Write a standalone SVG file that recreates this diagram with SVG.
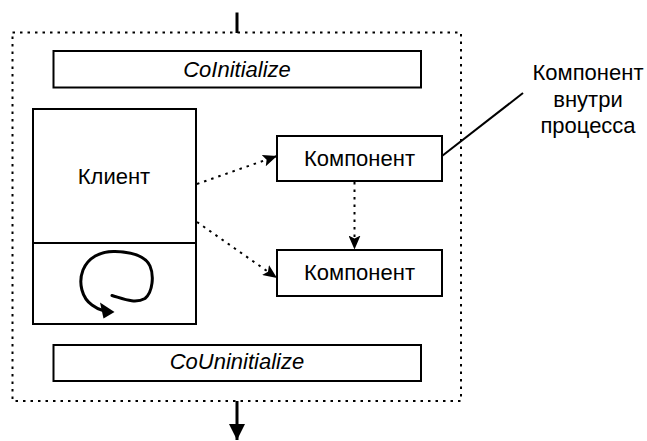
<svg xmlns="http://www.w3.org/2000/svg" width="647" height="441" viewBox="0 0 647 441">
<style>
.box{fill:#fff;stroke:#000;stroke-width:2}
.t{font-family:"Liberation Sans",Arial,sans-serif;font-size:22px;fill:#000;text-anchor:middle}
.i{font-style:italic}
.dot{fill:none;stroke:#000;stroke-width:2;stroke-dasharray:2.5 5}
.ln{fill:none;stroke:#000;stroke-width:2}
</style>
<defs>
<marker id="ah" viewBox="0 0 14 12" refX="14" refY="6" markerWidth="14" markerHeight="12" markerUnits="userSpaceOnUse" orient="auto">
<path d="M0,0 L14,6 L0,12 L3,6 Z" fill="#000"/>
</marker>
<marker id="ahb" viewBox="0 0 16 16" refX="16" refY="8" markerWidth="16" markerHeight="16" markerUnits="userSpaceOnUse" orient="auto">
<path d="M0,0 L16,8 L0,16 Z" fill="#000"/>
</marker>
</defs>
<rect x="0" y="0" width="647" height="441" fill="#fff"/>
<g id="process">
<rect x="12.5" y="32.5" width="448.5" height="368.5" class="dot"/>
</g>
<g id="coinitialize">
<rect x="53.5" y="51" width="367.5" height="36.5" class="box"/>
<text x="237" y="76.5" class="t i">CoInitialize</text>
</g>
<g id="client">
<rect x="33" y="109" width="163" height="215" class="box"/>
<line x1="33" y1="243" x2="196" y2="243" class="ln"/>
<text x="114" y="184" class="t">Клиент</text>
<path d="M112,295.5 C124,299 135,304 145,298.5 C153,292 154,275 150,266 C145,255 130,252 115,251.5 C100,251 88,258 83,270 C78,283 82,298 92,305 C96,308 99,309.5 103,310.5" fill="none" stroke="#000" stroke-width="3" stroke-linecap="round"/>
<path d="M114.5,312 L100,302.5 L103.5,318.5 Z" fill="#000"/>
</g>
<g id="component1">
<rect x="277" y="136" width="165" height="45" class="box"/>
<text x="359.5" y="165.5" class="t">Компонент</text>
</g>
<g id="component2">
<rect x="277" y="250" width="165" height="46" class="box"/>
<text x="359.5" y="280" class="t">Компонент</text>
</g>
<g id="couninitialize">
<rect x="53.5" y="345" width="367.5" height="36" class="box"/>
<text x="237" y="368.5" class="t i">CoUninitialize</text>
</g>
<g id="callout">
<text x="588" y="80" class="t">Компонент</text>
<text x="588" y="106.5" class="t">внутри</text>
<text x="588" y="133" class="t">процесса</text>
</g>
<g id="connectors">
<line x1="237" y1="12.5" x2="237" y2="33" stroke="#000" stroke-width="3"/>
<line x1="237" y1="401" x2="237" y2="440" stroke="#000" stroke-width="3" marker-end="url(#ahb)"/>
<line x1="197" y1="184" x2="277" y2="156" class="dot" marker-end="url(#ah)"/>
<line x1="197" y1="222" x2="277" y2="278" class="dot" marker-end="url(#ah)"/>
<line x1="354.5" y1="182" x2="354.5" y2="249.5" class="dot" marker-end="url(#ah)"/>
<line x1="442" y1="156" x2="523" y2="93" class="ln"/>
</g>
</svg>
